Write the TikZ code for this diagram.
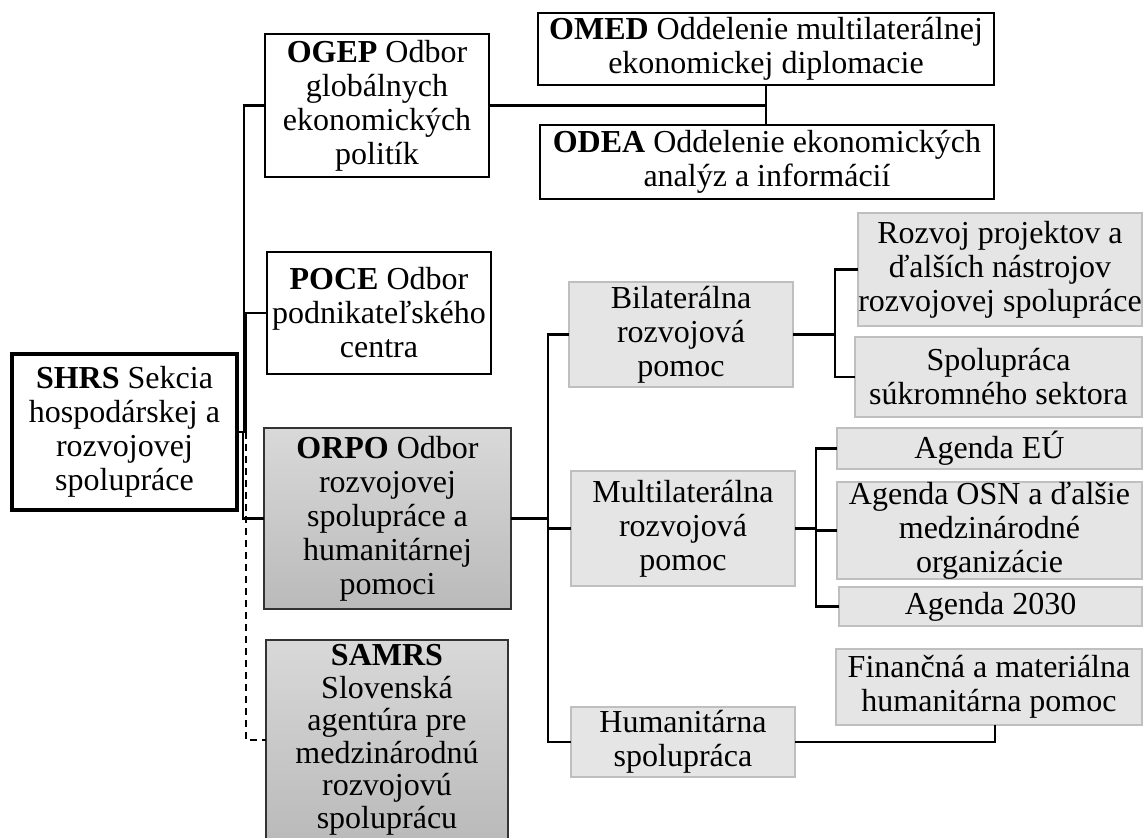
\documentclass[tikz,border=0pt]{standalone}
\usepackage{fontspec}
\setmainfont{Liberation Serif}
\usetikzlibrary{calc}
\begin{document}
\begin{tikzpicture}[x=1pt,y=-1pt,
  every node/.style={font=\fontsize{32}{34}\selectfont, align=center, inner sep=0pt, outer sep=0pt},
  wbox/.style={draw=black, line width=2.2pt, fill=white},
  gbox/.style={draw=black!25, line width=1.4pt, fill=black!10},
  dbox/.style={draw=black!80, line width=2.4pt, top color=black!15, bottom color=black!27},
  conn/.style={line width=2.6pt, draw=black},
  dconn/.style={line width=1.4pt, draw=black, dash pattern=on 7pt off 5pt}]
\useasboundingbox (0,0) rectangle (1144,838);

% top-level boxes
\node[wbox, minimum width=456pt, minimum height=72pt] (omed) at (766,49) {\textbf{OMED} Oddelenie multilaterálnej\\ekonomickej diplomacie};
\node[wbox, minimum width=454pt, minimum height=74pt] (odea) at (767,162) {\textbf{ODEA} Oddelenie ekonomických\\analýz a informácií};
\node[wbox, minimum width=224pt, minimum height=143pt] (ogep) at (377,105.5) {\textbf{OGEP} Odbor\\globálnych\\ekonomických\\politík};
\node[wbox, minimum width=224pt, minimum height=122pt] (poce) at (379,313) {\textbf{POCE} Odbor\\podnikateľského\\centra};
\node[wbox, line width=3.4pt, minimum width=225pt, minimum height=156pt] (shrs) at (124.5,432) {\textbf{SHRS} Sekcia\\hospodárskej a\\rozvojovej\\spolupráce};
\node[dbox, minimum width=247pt, minimum height=181pt] (orpo) at (387.5,518.5) {\textbf{ORPO} Odbor\\rozvojovej\\spolupráce a\\humanitárnej\\pomoci};
\node[dbox, font=\fontsize{32}{32.5}\selectfont, minimum width=242pt, minimum height=200pt] (samrs) at (387,740) {\textbf{SAMRS}\\Slovenská\\agentúra pre\\medzinárodnú\\rozvojovú\\spoluprácu};

% second level
\node[gbox, minimum width=224pt, minimum height=105pt] (bil) at (681,334.5) {Bilaterálna\\rozvojová\\pomoc};
\node[gbox, minimum width=224pt, minimum height=115pt] (mul) at (683,528.5) {Multilaterálna\\rozvojová\\pomoc};
\node[gbox, minimum width=224pt, minimum height=70pt] (hum) at (683,742) {Humanitárna\\spolupráca};

% third level
\node[gbox, minimum width=284pt, minimum height=113pt] (rozv) at (1000,269.5) {Rozvoj projektov a\\ďalších nástrojov\\rozvojovej spolupráce};
\node[gbox, minimum width=287pt, minimum height=80pt] (spol) at (998.5,377) {Spolupráca\\súkromného sektora};
\node[gbox, minimum width=305pt, minimum height=41pt] (eu) at (989.5,448.5) {Agenda EÚ};
\node[gbox, minimum width=305pt, minimum height=95pt] (osn) at (989.5,530.5) {Agenda OSN a ďalšie\\medzinárodné\\organizácie};
\node[gbox, minimum width=303pt, minimum height=39pt] (a2030) at (990.5,606.5) {Agenda 2030};
\node[gbox, minimum width=306pt, minimum height=76pt] (fin) at (989,687) {Finančná a materiálna\\humanitárna pomoc};

% connectors from SHRS
\draw[conn] (shrs.east) -- ++(7,0) |- (ogep.west);
\draw[conn] (shrs.east) -- ++(9,0) |- (poce.west);
\draw[conn] (shrs.east) -- ++(6,0) |- (orpo.west);
\draw[dconn] (shrs.east) ++(9,0) |- (samrs.west);

% OGEP
\draw[conn] (ogep.east) -- (ogep.east -| omed.south);
\draw[conn] (omed.south) -- (omed.south |- odea.north);

% ORPO
\draw[conn] (orpo.east) -- ++(37,0);
\draw[conn] (bil.west) -- ++(-21,0) |- (hum.west);
\draw[conn] (mul.west) -- ++(-23,0);

% Bilateral
\draw[conn] (bil.east) -- ++(42,0);
\draw[conn] (rozv.west) -- ++(-23,0) |- (spol.west);

% Multilateral
\draw[conn] (mul.east) -- ++(21,0);
\draw[conn] (eu.west) -- ++(-21,0) |- (a2030.west);
\draw[conn] (osn.west) -- ++(-21,0);

% Humanitarian
\draw[conn] (hum.east) -| ($(fin.south)+(6,0)$);
\end{tikzpicture}
\end{document}
